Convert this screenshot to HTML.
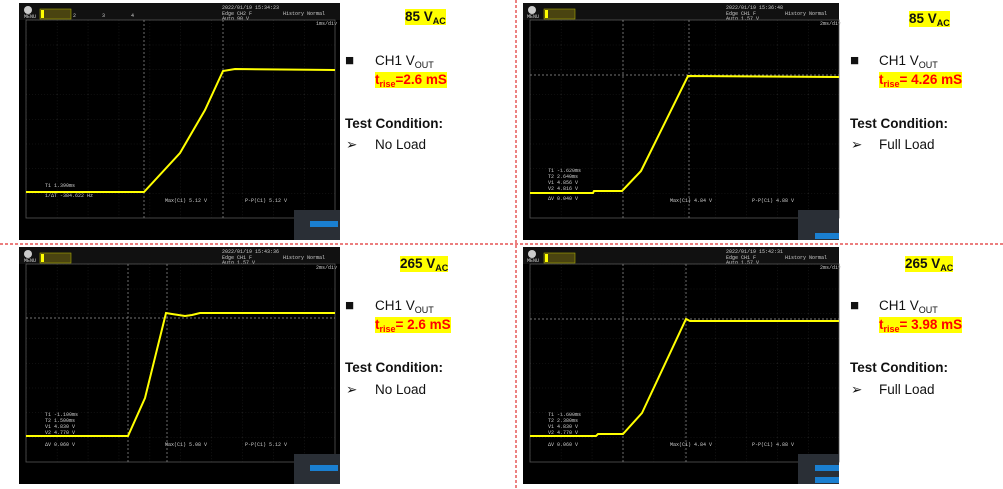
<!DOCTYPE html>
<html><head><meta charset="utf-8"><style>
body{margin:0;width:1003px;height:489px;background:#fff;position:relative;overflow:hidden;font-family:"Liberation Sans",sans-serif}
.t{position:absolute;font-size:13.5px;color:#111;white-space:nowrap;line-height:16px}
.b{font-weight:bold}
.hl{background:#ff0;font-weight:bold}
.r{color:#f00;background:#ff0;font-weight:bold}
sub{font-size:9px;vertical-align:-3px;line-height:0}
.sq{font-size:15px}
svg{position:absolute;left:0;top:0}
</style></head><body>
<svg width="1003" height="489" viewBox="0 0 1003 489" font-family="Liberation Mono,monospace">
<defs>
<pattern id="g1" x="26" y="20" width="30.9" height="24.75" patternUnits="userSpaceOnUse"><path d="M0 0V24.75M0 0H30.9" stroke="#2c2c2c" stroke-width="0.8" stroke-dasharray="1 2" fill="none"/></pattern>
<pattern id="g2" x="530" y="20" width="30.9" height="24.75" patternUnits="userSpaceOnUse"><path d="M0 0V24.75M0 0H30.9" stroke="#2c2c2c" stroke-width="0.8" stroke-dasharray="1 2" fill="none"/></pattern>
<pattern id="g3" x="26" y="264" width="30.9" height="24.75" patternUnits="userSpaceOnUse"><path d="M0 0V24.75M0 0H30.9" stroke="#2c2c2c" stroke-width="0.8" stroke-dasharray="1 2" fill="none"/></pattern>
<pattern id="g4" x="530" y="264" width="30.9" height="24.75" patternUnits="userSpaceOnUse"><path d="M0 0V24.75M0 0H30.9" stroke="#2c2c2c" stroke-width="0.8" stroke-dasharray="1 2" fill="none"/></pattern>
</defs>
<line x1="0" y1="244" x2="1003" y2="244" stroke="#e03030" stroke-width="1.2" stroke-dasharray="3 2"/>
<line x1="516" y1="0" x2="516" y2="489" stroke="#e03030" stroke-width="1.2" stroke-dasharray="3 2"/>

<!-- Scope TL -->
<rect x="19" y="3" width="321" height="237" fill="#000"/>
<rect x="19" y="3" width="321" height="17" fill="#111"/>
<rect x="40" y="9" width="31" height="10" fill="#4a4410" stroke="#aa0" stroke-width="0.6"/><rect x="41" y="10" width="3" height="8" fill="#ff0"/>
<text font-size="5" fill="#ccc"><tspan x="24" y="18">MENU</tspan><tspan x="73" y="17">2</tspan><tspan x="102" y="17">3</tspan><tspan x="131" y="17">4</tspan><tspan x="222" y="9">2022/01/19 15:34:23</tspan><tspan x="222" y="15">Edge CH2 F</tspan><tspan x="222" y="20">Auto 90 V</tspan><tspan x="283" y="15">History Normal</tspan><tspan x="316" y="25">1ms/div</tspan><tspan x="45" y="187">T1  1.390ms</tspan><tspan x="45" y="197">1/ΔT -384.622 Hz</tspan><tspan x="165" y="202">Max(C1)  5.12 V</tspan><tspan x="245" y="202">P-P(C1)  5.12 V</tspan></text>
<circle cx="28" cy="10" r="4" fill="#ccc"/>
<rect x="26" y="20" width="309" height="198" fill="url(#g1)" stroke="#555" stroke-width="0.8"/>
<line x1="144" y1="20" x2="144" y2="218" stroke="#999" stroke-dasharray="2 2" stroke-width="0.7"/>
<line x1="223" y1="20" x2="223" y2="218" stroke="#999" stroke-dasharray="2 2" stroke-width="0.7"/>
<rect x="294" y="210" width="46" height="30" fill="#2a2f36"/><rect x="310" y="221" width="28" height="6" fill="#1a7fd0"/>
<polyline points="26,192 144,192 180,153 205,110 223,71 235,69 335,70" fill="none" stroke="#ff0" stroke-width="2"/>

<!-- Scope TR -->
<rect x="523" y="3" width="316" height="237" fill="#000"/>
<rect x="523" y="3" width="316" height="17" fill="#111"/>
<rect x="544" y="9" width="31" height="10" fill="#4a4410" stroke="#aa0" stroke-width="0.6"/><rect x="545" y="10" width="3" height="8" fill="#ff0"/>
<circle cx="532" cy="10" r="4" fill="#ccc"/>
<text font-size="5" fill="#ccc"><tspan x="527" y="18">MENU</tspan><tspan x="726" y="9">2022/01/19 15:36:48</tspan><tspan x="726" y="15">Edge CH1 F</tspan><tspan x="726" y="20">Auto 1.57 V</tspan><tspan x="785" y="15">History Normal</tspan><tspan x="820" y="25">2ms/div</tspan><tspan x="548" y="172">T1 -1.620ms</tspan><tspan x="548" y="178">T2  2.640ms</tspan><tspan x="548" y="184">V1  4.856 V</tspan><tspan x="548" y="190">V2  4.816 V</tspan><tspan x="548" y="200">ΔV  0.040 V</tspan><tspan x="670" y="202">Max(C1)  4.84 V</tspan><tspan x="752" y="202">P-P(C1)  4.88 V</tspan></text>
<rect x="530" y="20" width="309" height="198" fill="url(#g2)" stroke="#555" stroke-width="0.8"/>
<line x1="530" y1="75" x2="839" y2="75" stroke="#999" stroke-dasharray="2 2" stroke-width="0.7"/>
<line x1="623" y1="20" x2="623" y2="218" stroke="#999" stroke-dasharray="2 2" stroke-width="0.7"/>
<line x1="689" y1="20" x2="689" y2="218" stroke="#999" stroke-dasharray="2 2" stroke-width="0.7"/>
<rect x="798" y="210" width="41" height="30" fill="#2a2f36"/><rect x="815" y="233" width="24" height="6" fill="#1a7fd0"/>
<polyline points="530,193 593,193 594,191 622,191 641,171 688,76 839,77" fill="none" stroke="#ff0" stroke-width="2"/>

<!-- Scope BL -->
<rect x="19" y="247" width="321" height="237" fill="#000"/>
<rect x="19" y="247" width="321" height="17" fill="#111"/>
<rect x="40" y="253" width="31" height="10" fill="#4a4410" stroke="#aa0" stroke-width="0.6"/><rect x="41" y="254" width="3" height="8" fill="#ff0"/>
<circle cx="28" cy="254" r="4" fill="#ccc"/>
<text font-size="5" fill="#ccc"><tspan x="24" y="262">MENU</tspan><tspan x="222" y="253">2022/01/19 15:43:36</tspan><tspan x="222" y="259">Edge CH1 F</tspan><tspan x="222" y="264">Auto 1.57 V</tspan><tspan x="283" y="259">History Normal</tspan><tspan x="316" y="269">2ms/div</tspan><tspan x="45" y="416">T1 -1.100ms</tspan><tspan x="45" y="422">T2  1.500ms</tspan><tspan x="45" y="428">V1  4.830 V</tspan><tspan x="45" y="434">V2  4.770 V</tspan><tspan x="45" y="446">ΔV  0.060 V</tspan><tspan x="165" y="446">Max(C1)  5.08 V</tspan><tspan x="245" y="446">P-P(C1)  5.12 V</tspan></text>
<rect x="26" y="264" width="309" height="198" fill="url(#g3)" stroke="#555" stroke-width="0.8"/>
<line x1="26" y1="318" x2="335" y2="318" stroke="#999" stroke-dasharray="2 2" stroke-width="0.7"/>
<line x1="128" y1="264" x2="128" y2="462" stroke="#999" stroke-dasharray="2 2" stroke-width="0.7"/>
<line x1="167" y1="264" x2="167" y2="462" stroke="#999" stroke-dasharray="2 2" stroke-width="0.7"/>
<rect x="294" y="454" width="46" height="30" fill="#2a2f36"/><rect x="310" y="465" width="28" height="6" fill="#1a7fd0"/>
<polyline points="26,436 128,436 145,398 166,313 172,314 185,316 192,315 200,313 335,313" fill="none" stroke="#ff0" stroke-width="2"/>

<!-- Scope BR -->
<rect x="523" y="247" width="316" height="237" fill="#000"/>
<rect x="523" y="247" width="316" height="17" fill="#111"/>
<rect x="544" y="253" width="31" height="10" fill="#4a4410" stroke="#aa0" stroke-width="0.6"/><rect x="545" y="254" width="3" height="8" fill="#ff0"/>
<circle cx="532" cy="254" r="4" fill="#ccc"/>
<text font-size="5" fill="#ccc"><tspan x="527" y="262">MENU</tspan><tspan x="726" y="253">2022/01/19 15:42:31</tspan><tspan x="726" y="259">Edge CH1 F</tspan><tspan x="726" y="264">Auto 1.57 V</tspan><tspan x="785" y="259">History Normal</tspan><tspan x="820" y="269">2ms/div</tspan><tspan x="548" y="416">T1 -1.600ms</tspan><tspan x="548" y="422">T2  2.380ms</tspan><tspan x="548" y="428">V1  4.830 V</tspan><tspan x="548" y="434">V2  4.770 V</tspan><tspan x="548" y="446">ΔV  0.060 V</tspan><tspan x="670" y="446">Max(C1)  4.84 V</tspan><tspan x="752" y="446">P-P(C1)  4.88 V</tspan></text>
<rect x="530" y="264" width="309" height="198" fill="url(#g4)" stroke="#555" stroke-width="0.8"/>
<line x1="530" y1="319" x2="839" y2="319" stroke="#999" stroke-dasharray="2 2" stroke-width="0.7"/>
<line x1="623" y1="264" x2="623" y2="462" stroke="#999" stroke-dasharray="2 2" stroke-width="0.7"/>
<line x1="686" y1="264" x2="686" y2="462" stroke="#999" stroke-dasharray="2 2" stroke-width="0.7"/>
<rect x="798" y="454" width="41" height="30" fill="#2a2f36"/><rect x="815" y="465" width="24" height="6" fill="#1a7fd0"/><rect x="815" y="477" width="24" height="6" fill="#1a7fd0"/>
<polyline points="530,436 596,436 598,434 623,434 642,413 686,319 690,321 839,321" fill="none" stroke="#ff0" stroke-width="2"/>
</svg>

<div class="t hl" style="left:405px;top:9px">85 V<sub>AC</sub></div>
<div class="t sq" style="left:345px;top:53px">■</div>
<div class="t" style="left:375px;top:53px">CH1 V<sub>OUT</sub></div>
<div class="t r" style="left:375px;top:72px">t<sub>rise</sub>=2.6 mS</div>
<div class="t b" style="left:345px;top:116px">Test Condition:</div>
<div class="t" style="left:346px;top:137px">➢</div>
<div class="t" style="left:375px;top:137px">No Load</div>

<div class="t hl" style="left:909px;top:11px">85 V<sub>AC</sub></div>
<div class="t sq" style="left:850px;top:53px">■</div>
<div class="t" style="left:879px;top:53px">CH1 V<sub>OUT</sub></div>
<div class="t r" style="left:879px;top:72px">t<sub>rise</sub>= 4.26 mS</div>
<div class="t b" style="left:850px;top:116px">Test Condition:</div>
<div class="t" style="left:851px;top:137px">➢</div>
<div class="t" style="left:879px;top:137px">Full Load</div>

<div class="t hl" style="left:400px;top:256px">265 V<sub>AC</sub></div>
<div class="t sq" style="left:345px;top:298px">■</div>
<div class="t" style="left:375px;top:298px">CH1 V<sub>OUT</sub></div>
<div class="t r" style="left:375px;top:317px">t<sub>rise</sub>= 2.6 mS</div>
<div class="t b" style="left:345px;top:360px">Test Condition:</div>
<div class="t" style="left:346px;top:382px">➢</div>
<div class="t" style="left:375px;top:382px">No Load</div>

<div class="t hl" style="left:905px;top:256px">265 V<sub>AC</sub></div>
<div class="t sq" style="left:850px;top:298px">■</div>
<div class="t" style="left:879px;top:298px">CH1 V<sub>OUT</sub></div>
<div class="t r" style="left:879px;top:317px">t<sub>rise</sub>= 3.98 mS</div>
<div class="t b" style="left:850px;top:360px">Test Condition:</div>
<div class="t" style="left:851px;top:382px">➢</div>
<div class="t" style="left:879px;top:382px">Full Load</div>
</body></html>
